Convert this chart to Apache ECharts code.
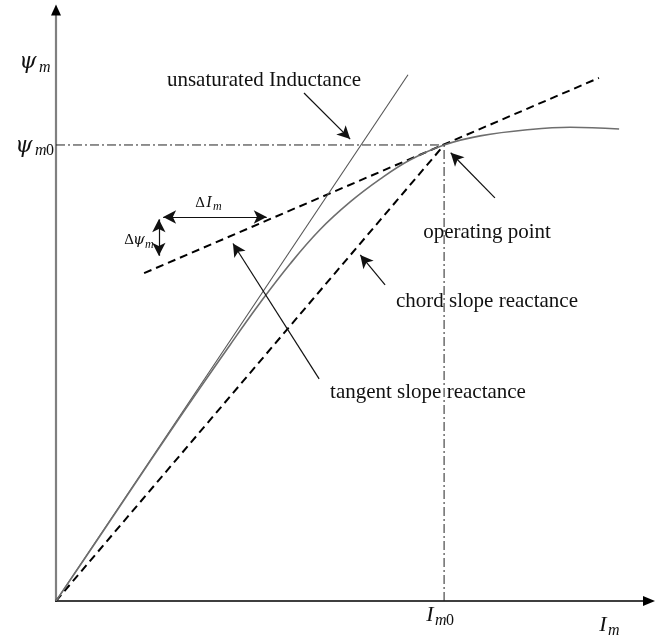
<!DOCTYPE html>
<html><head><meta charset="utf-8">
<script src="https://cdn.jsdelivr.net/npm/echarts@6/dist/echarts.min.js"></script>
<style>html,body{margin:0;padding:0;background:#fff}#c{width:666px;height:641px}</style>
</head><body><div id="c"></div>
<script>
// Magnetizing current (units of I_m0) and flux linkage (units of psi_m0)
const curveI   = [0, 0.165, 0.320, 0.448, 0.526, 0.603, 0.680, 0.758, 0.835, 0.912, 1.000, 1.093, 1.222, 1.325, 1.451];
const curvePsi = [0, 0.208, 0.404, 0.561, 0.654, 0.739, 0.814, 0.875, 0.925, 0.967, 1.000, 1.020, 1.034, 1.039, 1.035];
const unsatI   = [0, 0.907];
const unsatPsi = [0, 1.154];
const tangentI   = [0.227, 1.399];
const tangentPsi = [0.719, 1.147];
const chordI   = [0, 1];
const chordPsi = [0, 1];
const opI = 1, opPsi = 1;
const axisMaxI = 1.528, axisMaxPsi = 1.296;

const SERIF = "'Liberation Serif','Times New Roman',serif";
const MATH = "'DejaVu Serif','Liberation Serif',serif";
const pairs = (xs, ys) => xs.map((x, i) => [x, ys[i]]);

// annotation arrows (layout, in axis units): [from, to, both-ends]
const arrows = [
  [[0.639, 1.114], [0.758, 1.013], false],
  [[1.131, 0.884], [1.017, 0.983], false],
  [[0.848, 0.693], [0.784, 0.759], false],
  [[0.678, 0.487], [0.456, 0.784], false],
  [[0.276, 0.842], [0.543, 0.842], true],
  [[0.265, 0.837], [0.265, 0.757], true]
];

function txt(x, y, text, size, opts) {
  opts = opts || {};
  return {
    type: 'text', x: x, y: y, z: 100, silent: true,
    style: {
      text: text,
      fontFamily: opts.family || SERIF,
      fontSize: size,
      fontStyle: opts.italic ? 'italic' : 'normal',
      fill: '#111',
      align: opts.align || 'center',
      verticalAlign: 'middle'
    }
  };
}

const chart = echarts.init(document.getElementById('c'), null, {renderer: 'canvas'});
chart.setOption({
  animation: false,
  backgroundColor: '#fff',
  grid: {left: 56, right: 17, top: 10, bottom: 40, containLabel: false},
  xAxis: {
    type: 'value', min: 0, max: axisMaxI,
    axisLine: {show: true, onZero: false, symbol: ['none', 'triangle'], symbolSize: [10, 12],
      lineStyle: {color: '#000', width: 1.5}},
    axisTick: {show: false}, axisLabel: {show: false}, splitLine: {show: false}
  },
  yAxis: {
    type: 'value', min: 0, max: axisMaxPsi,
    axisLine: {show: true, onZero: false, symbol: ['none', 'triangle'], symbolSize: [10, 11],
      lineStyle: {color: '#000', width: 2}},
    axisTick: {show: false}, axisLabel: {show: false}, splitLine: {show: false}
  },
  series: [
    {type: 'line', name: 'yshade', data: [[0, 0], [0, axisMaxPsi - 0.012]], symbol: 'none', clip: false,
      lineStyle: {color: '#808080', width: 2.2}, z: 1},
    {type: 'line', name: 'refH', data: [[0, opPsi], [opI, opPsi]], symbol: 'none',
      lineStyle: {color: '#222', width: 1, type: [9, 3, 2, 3]}},
    {type: 'line', name: 'refV', data: [[opI, 0], [opI, opPsi]], symbol: 'none',
      lineStyle: {color: '#222', width: 1, type: [9, 3, 2, 3]}},
    {type: 'line', name: 'chord', data: pairs(chordI, chordPsi), symbol: 'none',
      lineStyle: {color: '#000', width: 2, type: [8, 5]}},
    {type: 'line', name: 'tangent', data: pairs(tangentI, tangentPsi), symbol: 'none',
      lineStyle: {color: '#000', width: 2, type: [8, 5]}},
    {type: 'line', name: 'unsaturated', data: pairs(unsatI, unsatPsi), symbol: 'none',
      lineStyle: {color: '#555', width: 1.1}},
    {type: 'line', name: 'curve', data: pairs(curveI, curvePsi), symbol: 'none',
      smooth: 0.4,
      lineStyle: {color: '#6e6e6e', width: 1.6}},
    {type: 'line', name: 'arrows', data: [], symbol: 'none',
      markLine: {
        silent: true, animation: false, precision: 4,
        symbolSize: [10, 13],
        label: {show: false},
        lineStyle: {color: '#111', width: 1.2, type: 'solid'},
        emphasis: {disabled: true},
        data: arrows.map(a => [
          {coord: a[0], symbol: a[2] ? 'arrow' : 'none'},
          {coord: a[1], symbol: 'arrow'}
        ])
      }}
  ],
  graphic: [
    txt(264, 80, 'unsaturated Inductance', 21),
    txt(487, 232, 'operating point', 21),
    txt(487, 301, 'chord slope reactance', 21),
    txt(428, 392, 'tangent slope reactance', 21),
    // psi_m
    txt(28, 62, 'ψ', 22, {italic: true, family: MATH}),
    txt(39, 68, 'm', 16, {italic: true, align: 'left'}),
    // psi_m0
    txt(24, 146, 'ψ', 22, {italic: true, family: MATH}),
    txt(35, 151, 'm', 16, {italic: true, align: 'left'}),
    txt(46, 151, '0', 16, {align: 'left'}),
    // I_m0
    txt(430, 615, 'I', 22, {italic: true}),
    txt(435, 621, 'm', 16, {italic: true, align: 'left'}),
    txt(446, 621, '0', 16, {align: 'left'}),
    // I_m
    txt(603, 625, 'I', 22, {italic: true}),
    txt(608, 631, 'm', 16, {italic: true, align: 'left'}),
    // Delta I_m
    txt(200, 203, 'Δ', 15),
    txt(209, 203, 'I', 16, {italic: true}),
    txt(213, 207, 'm', 12, {italic: true, align: 'left'}),
    // Delta psi_m
    txt(129, 240, 'Δ', 15),
    txt(139, 240, 'ψ', 15, {italic: true, family: MATH}),
    txt(145, 245, 'm', 12, {italic: true, align: 'left'})
  ]
});
</script></body></html>
